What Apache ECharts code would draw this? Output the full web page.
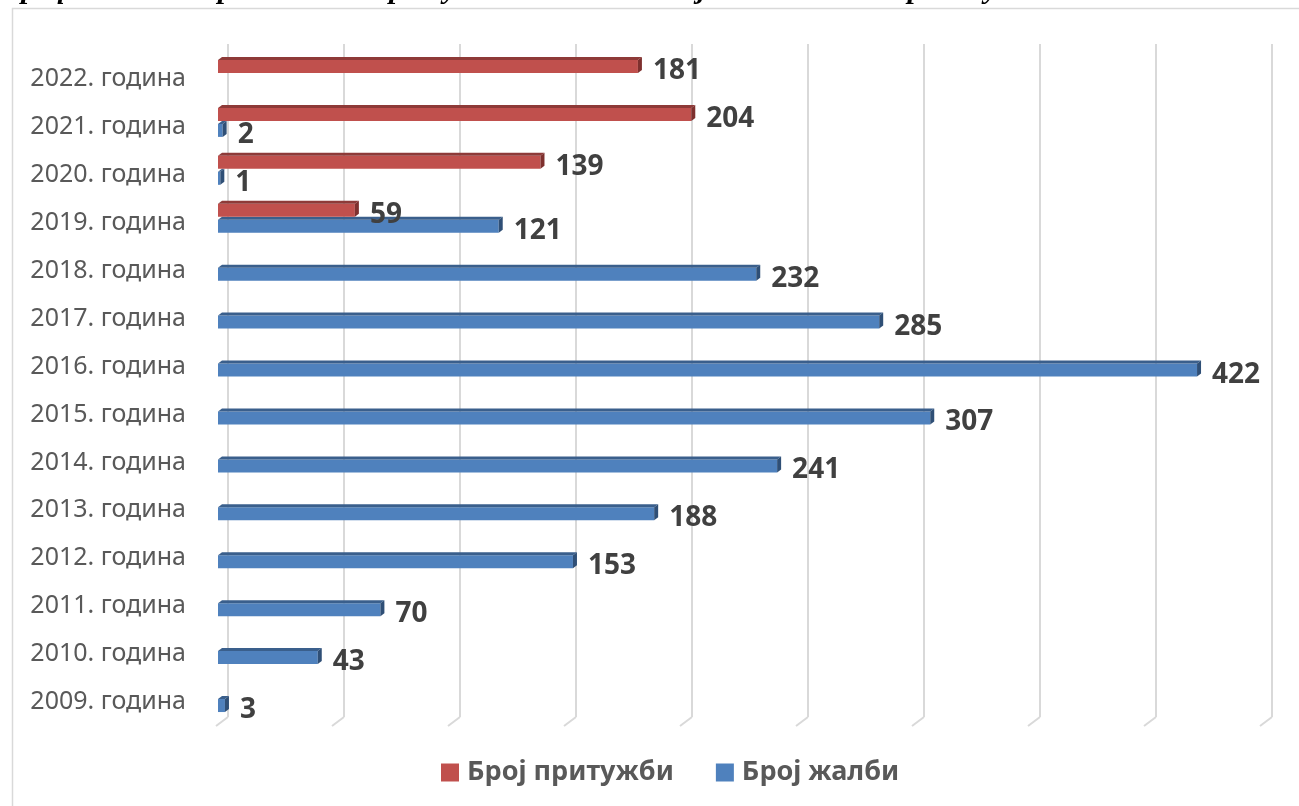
<!DOCTYPE html>
<html>
<head>
<meta charset="utf-8">
<script src="https://cdn.jsdelivr.net/npm/echarts@6/dist/echarts.min.js"></script>
<style>
  html, body { margin: 0; padding: 0; background: #fff; }
  #chart { width: 1299px; height: 806px; }
</style>
</head>
<body>
<div id="chart"></div>
<script>
// years, bottom to top
var years = ['2009. година', '2010. година', '2011. година', '2012. година', '2013. година',
  '2014. година', '2015. година', '2016. година', '2017. година', '2018. година',
  '2019. година', '2020. година', '2021. година', '2022. година']
// Број притужби (red) - only from 2019
var complaints = [null, null, null, null, null, null, null, null, null, null, 59, 139, 204, 181]
// Број жалби (blue)
var appeals = [3, 43, 70, 153, 188, 241, 307, 422, 285, 232, 121, 1, 2, null]
// back wall grid ticks
var wallTicks = [0, 50, 100, 150, 200, 250, 300, 350, 400, 450]

var titleWords = [
  { text: 'Графикон', x: 4 },
  { text: 'бр.2:', x: 203 },
  { text: 'Притужбе/жалбе', x: 366 },
  { text: 'изјављене', x: 669 },
  { text: 'Поверенику', x: 843 },
  { text: 'по', x: 1050 },
  { text: 'годинама', x: 1126 }
]

var RED = { front: '#C0504D', top: '#8E3A38', side: '#7E302E' }
var BLUE = { front: '#4F81BD', top: '#3A5F8C', side: '#2F4F76' }

function toData(arr) {
  var out = []
  arr.forEach(function(v, i) {
    if (v != null) out.push([v, i])
  })
  return out
}

function bar3d(colors, upper) {
  return function(params, api) {
    var v = api.value(0)
    var cat = api.value(1)
    var start = api.coord([0, cat])
    var end = api.coord([v, cat])
    var h = 16
    var d = 3
    var dx = 4
    var y0 = upper ? start[1] - h : start[1]
    var y1 = y0 + h
    var x0 = start[0]
    var x1 = end[0]
    return {
      type: 'group',
      children: [
        {
          type: 'rect',
          shape: { x: x0, y: y0 + d, width: x1 - x0, height: h - d },
          style: { fill: colors.front }
        },
        {
          type: 'polygon',
          shape: { points: [[x0, y0 + d], [x0 + dx, y0], [x1 + dx, y0], [x1, y0 + d]] },
          style: { fill: colors.top }
        },
        {
          type: 'polygon',
          shape: { points: [[x1, y0 + d], [x1 + dx, y0], [x1 + dx, y1 - d], [x1, y1]] },
          style: { fill: colors.side }
        },
        {
          type: 'text',
          z2: 100,
          style: {
            x: x1 + dx + 11,
            y: (y0 + y1) / 2 + 6,
            text: String(v),
            fill: '#404040',
            font: 'bold 28px "Noto Sans"',
            align: 'left',
            verticalAlign: 'middle'
          }
        }
      ]
    }
  }
}

var chart = echarts.init(document.getElementById('chart'))

chart.setOption({
  animation: false,
  backgroundColor: '#fff',
  graphic: [
    {
      type: 'rect',
      shape: { x: 12.5, y: 8.5, width: 1300, height: 820 },
      style: { fill: 'none', stroke: '#d9d9d9', lineWidth: 1.5 }
    }
  ].concat(titleWords.map(function(w) {
    return {
      type: 'text',
      x: w.x,
      y: -10,
      style: {
        text: w.text,
        font: 'italic bold 30px "Liberation Serif"',
        fill: '#000',
        verticalAlign: 'middle'
      }
    }
  })),
  legend: {
    left: 436,
    top: 754,
    itemWidth: 18,
    itemHeight: 18,
    itemGap: 42,
    icon: 'rect',
    data: ['Број притужби', 'Број жалби'],
    textStyle: {
      color: '#595959',
      fontFamily: 'Noto Sans',
      fontWeight: 'bold',
      fontSize: 27,
      padding: [0, 0, 0, 3]
    }
  },
  grid: [
    { left: 218, width: 1044, top: 49, height: 671 },
    { left: 228, width: 1044, top: 44, height: 673 },
    // label grid, shifted a bit down like the 3D front edge
    { left: 218, width: 1044, top: 55, height: 671 }
  ],
  xAxis: [
    {
      type: 'value', gridIndex: 0, min: 0, max: 450, interval: 50,
      axisLine: { show: false }, axisTick: { show: false },
      axisLabel: { show: false }, splitLine: { show: false }
    },
    {
      type: 'value', gridIndex: 1, min: 0, max: 450, interval: 50,
      axisLine: { show: false }, axisTick: { show: false },
      axisLabel: { show: false },
      splitLine: { show: true, lineStyle: { color: '#d9d9d9', width: 2 } }
    },
    {
      type: 'value', gridIndex: 2, min: 0, max: 450, show: false, splitLine: { show: false }
    }
  ],
  yAxis: [
    {
      type: 'category', gridIndex: 0, data: years, show: false
    },
    {
      type: 'value', gridIndex: 1, min: 0, max: 1, show: false
    },
    {
      type: 'category', gridIndex: 2, data: years,
      axisLine: { show: false }, axisTick: { show: false },
      splitLine: { show: false },
      axisLabel: {
        margin: 32,
        color: '#595959',
        fontFamily: 'Noto Sans',
        fontSize: 25
      }
    }
  ],
  series: [
    {
      // floor edges of the back wall
      type: 'custom',
      xAxisIndex: 1,
      yAxisIndex: 1,
      silent: true,
      data: wallTicks.map(function(t) { return [t, 0] }),
      renderItem: function(params, api) {
        var p = api.coord([api.value(0), 0])
        return {
          type: 'line',
          shape: { x1: p[0], y1: p[1], x2: p[0] - 12, y2: p[1] + 9 },
          style: { stroke: '#d9d9d9', lineWidth: 2 }
        }
      }
    },
    {
      name: 'Број жалби',
      type: 'custom',
      xAxisIndex: 0,
      yAxisIndex: 0,
      itemStyle: { color: BLUE.front },
      encode: { x: 0, y: 1 },
      data: toData(appeals),
      renderItem: bar3d(BLUE, false)
    },
    {
      name: 'Број притужби',
      type: 'custom',
      xAxisIndex: 0,
      yAxisIndex: 0,
      itemStyle: { color: RED.front },
      encode: { x: 0, y: 1 },
      data: toData(complaints),
      renderItem: bar3d(RED, true)
    }
  ]
})
</script>
</body>
</html>
